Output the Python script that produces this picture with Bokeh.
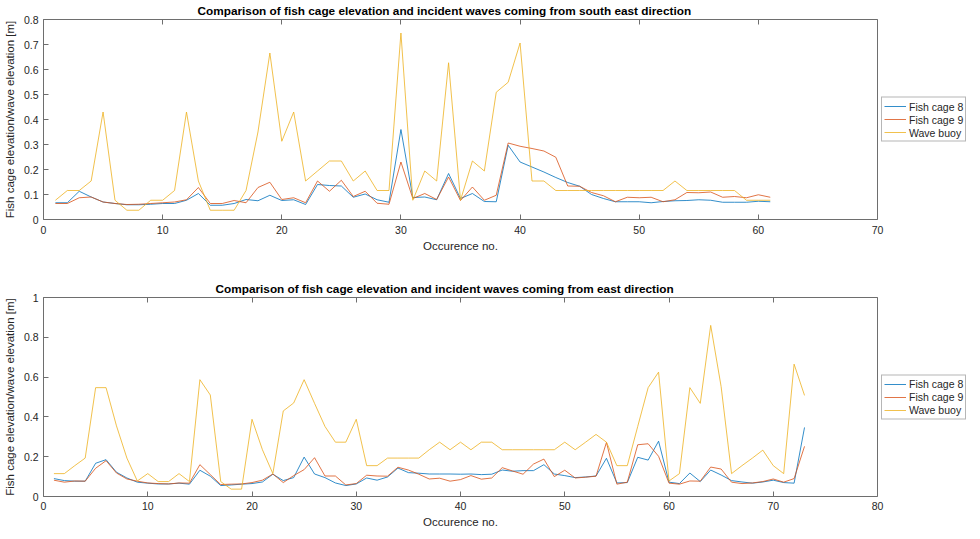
from bokeh.plotting import figure
from bokeh.layouts import column
from bokeh.models import (ColumnDataSource, LinearAxis, FixedTicker, Legend,
                          LegendItem, Range1d)
from bokeh.embed import file_html
from bokeh.resources import INLINE

# ---------------- data ----------------
series_names = ["Fish cage 8", "Fish cage 9", "Wave buoy"]

cage8_se = [0.067, 0.067, 0.113, 0.090, 0.070, 0.064, 0.059, 0.059, 0.061, 0.064,
            0.064, 0.077, 0.104, 0.057, 0.057, 0.064, 0.080, 0.075, 0.097, 0.076,
            0.079, 0.060, 0.140, 0.136, 0.134, 0.089, 0.102, 0.079, 0.069, 0.360,
            0.088, 0.090, 0.079, 0.184, 0.084, 0.104, 0.072, 0.071, 0.297, 0.230,
            0.210, 0.190, 0.168, 0.148, 0.133, 0.100, 0.084, 0.071, 0.071, 0.071,
            0.067, 0.072, 0.075, 0.076, 0.079, 0.077, 0.069, 0.069, 0.069, 0.073, 0.071]
cage9_se = [0.064, 0.064, 0.087, 0.090, 0.070, 0.064, 0.060, 0.061, 0.064, 0.067,
            0.070, 0.079, 0.128, 0.064, 0.064, 0.076, 0.067, 0.128, 0.149, 0.080,
            0.087, 0.067, 0.154, 0.113, 0.157, 0.092, 0.113, 0.065, 0.061, 0.230,
            0.084, 0.104, 0.080, 0.170, 0.076, 0.130, 0.077, 0.097, 0.306, 0.293,
            0.284, 0.274, 0.249, 0.134, 0.133, 0.108, 0.095, 0.071, 0.089, 0.087,
            0.089, 0.071, 0.079, 0.108, 0.107, 0.110, 0.089, 0.092, 0.087, 0.099, 0.089]
buoy_se = [0.077, 0.116, 0.116, 0.154, 0.430, 0.077, 0.037, 0.037, 0.077, 0.077,
           0.116, 0.430, 0.154, 0.037, 0.037, 0.037, 0.116, 0.350, 0.666, 0.313,
           0.430, 0.154, 0.194, 0.234, 0.234, 0.154, 0.194, 0.116, 0.116, 0.746,
           0.077, 0.194, 0.154, 0.627, 0.077, 0.234, 0.194, 0.509, 0.549, 0.706,
           0.154, 0.154, 0.116, 0.116, 0.116, 0.116, 0.116, 0.116, 0.116, 0.116,
           0.116, 0.116, 0.154, 0.116, 0.116, 0.116, 0.116, 0.116, 0.077, 0.077, 0.077]

cage8_e = [0.090, 0.080, 0.077, 0.077, 0.167, 0.185, 0.122, 0.093, 0.072, 0.067,
           0.063, 0.063, 0.067, 0.062, 0.132, 0.102, 0.055, 0.058, 0.062, 0.065,
           0.073, 0.112, 0.080, 0.095, 0.198, 0.113, 0.095, 0.068, 0.055, 0.063,
           0.093, 0.082, 0.098, 0.143, 0.120, 0.117, 0.113, 0.113, 0.113, 0.112,
           0.113, 0.110, 0.112, 0.133, 0.127, 0.130, 0.130, 0.160, 0.113, 0.105,
           0.095, 0.098, 0.103, 0.192, 0.068, 0.070, 0.197, 0.183, 0.278, 0.072,
           0.065, 0.118, 0.075, 0.133, 0.108, 0.080, 0.073, 0.067, 0.073, 0.082,
           0.070, 0.067, 0.347]
cage9_e = [0.082, 0.072, 0.078, 0.077, 0.142, 0.180, 0.118, 0.088, 0.077, 0.068,
           0.065, 0.063, 0.068, 0.067, 0.160, 0.110, 0.060, 0.062, 0.063, 0.070,
           0.082, 0.113, 0.070, 0.105, 0.135, 0.195, 0.103, 0.103, 0.058, 0.065,
           0.107, 0.103, 0.102, 0.147, 0.133, 0.112, 0.088, 0.092, 0.077, 0.085,
           0.105, 0.087, 0.093, 0.145, 0.128, 0.112, 0.163, 0.188, 0.100, 0.132,
           0.093, 0.097, 0.102, 0.272, 0.062, 0.072, 0.260, 0.265, 0.202, 0.067,
           0.062, 0.078, 0.077, 0.148, 0.138, 0.072, 0.065, 0.068, 0.075, 0.088,
           0.072, 0.090, 0.252]
buoy_e = [0.115, 0.115, 0.155, 0.193, 0.547, 0.547, 0.355, 0.193, 0.078, 0.115,
          0.075, 0.075, 0.115, 0.075, 0.587, 0.510, 0.075, 0.037, 0.037, 0.388,
          0.235, 0.115, 0.430, 0.470, 0.587, 0.468, 0.352, 0.273, 0.273, 0.388,
          0.155, 0.155, 0.193, 0.193, 0.193, 0.193, 0.235, 0.273, 0.235, 0.273,
          0.235, 0.273, 0.273, 0.235, 0.235, 0.235, 0.235, 0.235, 0.235, 0.273,
          0.235, 0.273, 0.312, 0.273, 0.155, 0.155, 0.352, 0.547, 0.625, 0.078,
          0.115, 0.547, 0.468, 0.860, 0.552, 0.115, 0.155, 0.193, 0.233, 0.155,
          0.115, 0.665, 0.508]

x_ticks_se = [0, 10, 20, 30, 40, 50, 60, 70]
y_ticks_se = [0, 0.1, 0.2, 0.3, 0.4, 0.5, 0.6, 0.7, 0.8]
y_labels_se = ["0", "0.1", "0.2", "0.3", "0.4", "0.5", "0.6", "0.7", "0.8"]
x_ticks_e = [0, 10, 20, 30, 40, 50, 60, 70, 80]
y_ticks_e = [0, 0.2, 0.4, 0.6, 0.8, 1.0]
y_labels_e = ["0", "0.2", "0.4", "0.6", "0.8", "1"]

title_se = "Comparison of fish cage elevation and incident waves coming from south east direction"
title_e = "Comparison of fish cage elevation and incident waves coming from east direction"
x_label = "Occurence no."
y_label = "Fish cage elevation/wave elevation [m]"

colors = ["#0072BD", "#D95319", "#EDB120"]
FONT = "Liberation Sans"
TXT = "#262626"
FRAME = "#6e6e6e"


def make_panel(title, title_off, series, x_max, y_max, xt, yt, ylabs, fh, mb_top,
               lab_standoff, axlab_standoff):
    p = figure(frame_width=834, frame_height=fh, output_backend="svg", toolbar_location=None,
               x_range=Range1d(0, x_max), y_range=Range1d(0, y_max),
               min_border_left=38, min_border_right=0,
               min_border_top=mb_top, min_border_bottom=0,
               x_axis_type=None, y_axis_type=None)
    p.title.text = title
    p.title.text_font = FONT
    p.title.text_font_size = "11.8px"
    p.title.text_font_style = "bold"
    p.title.text_color = "black"
    p.title.align = "left"
    p.title.offset = title_off
    p.title.standoff = 3
    p.background_fill_color = "white"
    p.border_fill_color = "white"
    p.outline_line_color = FRAME
    p.outline_line_width = 1
    p.xgrid.visible = False
    p.ygrid.visible = False

    label_over = {t: l for t, l in zip(yt, ylabs)}

    xb = LinearAxis(ticker=FixedTicker(ticks=xt), axis_label=x_label)
    yl = LinearAxis(ticker=FixedTicker(ticks=yt), axis_label=y_label,
                    major_label_overrides=label_over)
    xa = LinearAxis(ticker=FixedTicker(ticks=xt))
    for ax in (xb, yl, xa):
        ax.major_tick_in = 5
        ax.major_tick_out = 0
        ax.minor_tick_in = 0
        ax.minor_tick_out = 0
        ax.axis_line_color = None
        ax.major_tick_line_color = FRAME
        ax.major_label_text_font = FONT
        ax.major_label_text_font_size = "10.5px"
        ax.major_label_text_color = TXT
        ax.axis_label_text_font = FONT
        ax.axis_label_text_font_size = "11.5px"
        ax.axis_label_text_font_style = "normal"
        ax.axis_label_text_color = TXT
    xa.major_label_text_font_size = "1px"
    xa.major_label_text_color = None
    xa.major_label_standoff = 0
    xb.major_label_standoff = lab_standoff
    xb.axis_label_standoff = axlab_standoff
    yl.major_label_standoff = 5
    yl.axis_label_standoff = 5
    p.add_layout(xb, "below")
    p.add_layout(yl, "left")
    p.add_layout(xa, "above")

    xs = list(range(1, len(series[0]) + 1))
    items = []
    for name, vals, c in zip(series_names, series, colors):
        src = ColumnDataSource(data=dict(x=xs, y=vals))
        r = p.line("x", "y", source=src, line_color=c, line_width=1, line_alpha=0.8)
        items.append(LegendItem(label=name, renderers=[r]))

    leg = Legend(items=items, location="center_left")
    leg.label_text_font = FONT
    leg.label_text_font_size = "10.5px"
    leg.label_text_color = TXT
    leg.border_line_color = FRAME
    leg.border_line_width = 1
    leg.background_fill_color = "white"
    leg.background_fill_alpha = 1
    leg.padding = 2
    leg.spacing = 0
    leg.margin = 4
    leg.glyph_width = 22
    leg.glyph_height = 13
    leg.label_height = 13
    leg.label_standoff = 3
    p.add_layout(leg, "right")
    return p


p1 = make_panel(title_se, 154, [cage8_se, cage9_se, buoy_se], 70, 0.8,
                x_ticks_se, y_ticks_se, y_labels_se, 200, 13, 6, 3)
p2 = make_panel(title_e, 172, [cage8_e, cage9_e, buoy_e], 80, 1.0,
                x_ticks_e, y_ticks_e, y_labels_e, 199, 43, 5, 3)

layout = column(p1, p2, spacing=0)
open("out.html", "w").write(file_html(layout, INLINE))
